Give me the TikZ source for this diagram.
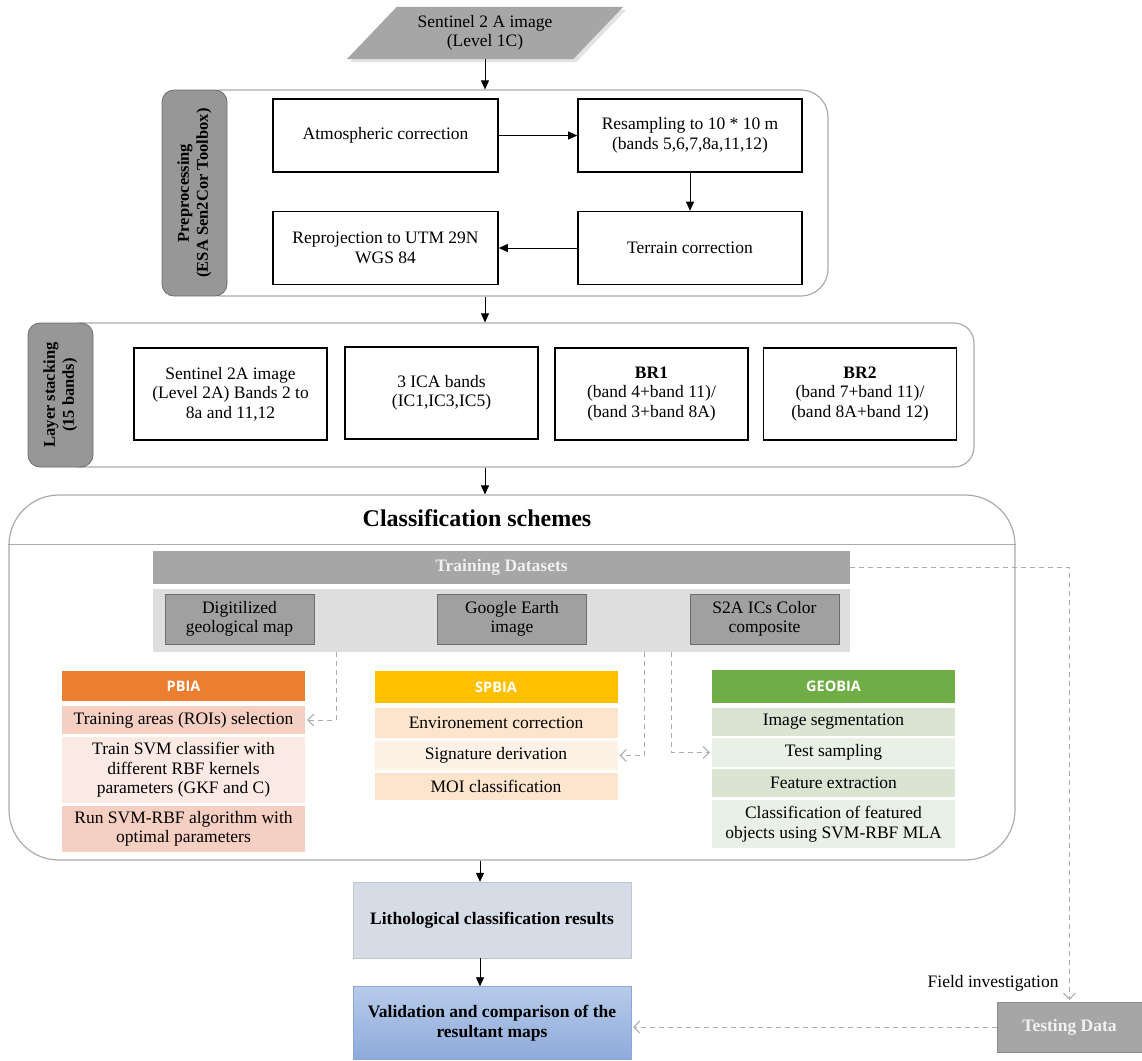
\documentclass[tikz,border=0pt]{standalone}
\usepackage{fontspec}
\setmainfont{Liberation Serif}
\setsansfont{Open Sans}
\usetikzlibrary{arrows.meta,backgrounds}

\definecolor{boxgray}{HTML}{A6A6A6}
\definecolor{tabgray}{HTML}{979797}
\definecolor{tabedge}{HTML}{6E6E6E}
\definecolor{linegray}{HTML}{ABABAB}
\definecolor{bandgray}{HTML}{DEDEDE}
\definecolor{datagray}{HTML}{A0A0A0}
\definecolor{pbiahead}{HTML}{ED7D31}
\definecolor{pbiadark}{HTML}{F6CFC3}
\definecolor{pbialight}{HTML}{FBE9E4}
\definecolor{spbiahead}{HTML}{FFC000}
\definecolor{spbiadark}{HTML}{FDE5CD}
\definecolor{spbialight}{HTML}{FEF2E6}
\definecolor{geohead}{HTML}{70AD47}
\definecolor{geodark}{HTML}{D9E4D2}
\definecolor{geolight}{HTML}{E9F0E5}
\definecolor{lithofill}{HTML}{D6DCE5}
\definecolor{lithoedge}{HTML}{BFC6D1}
\definecolor{validtop}{HTML}{B7CBEA}
\definecolor{validbot}{HTML}{8EAADB}
\definecolor{validedge}{HTML}{8AA5D6}

\newcommand{\txt}{\fontsize{17.5}{19.5}\selectfont}

\begin{document}
\begin{tikzpicture}
    [x=1pt,y=-1pt,>={Triangle[length=9pt,width=8pt]},
     pre/.style={<-,black,line width=0.8pt},
     post/.style={->,black,line width=0.8pt},
     dashlink/.style={draw=linegray,dashed,dash pattern=on 5pt off 4pt,line width=1pt,
       -{Straight Barb[length=6pt,width=12pt]},shorten >=2pt},
     cont/.style={draw=linegray,line width=1.2pt,rounded corners=#1},
     sidetab/.style={fill=tabgray,draw=tabedge,line width=0.8pt,rounded corners=12pt,
       rotate=90,align=center,font=\fontsize{16.5}{19}\selectfont\bfseries},
     procbox/.style={draw=black,line width=1.6pt,align=center,font=\txt,inner sep=2pt},
     databox/.style={fill=datagray,draw=tabedge,line width=1pt,align=center,font=\txt,
       minimum width=149pt,minimum height=50pt},
     headbox/.style={fill=#1,text=white,minimum width=243pt,
       font=\sffamily\bfseries\fontsize{14.5}{16}\selectfont},
     rowbox/.style={fill=#1,minimum width=243pt,align=center,font=\txt,inner sep=1pt}]
    \useasboundingbox (0,0) rectangle (1142,1060);

    \node [align=center,font=\txt,minimum width=226pt,minimum height=52pt] (img) at (485,33)
      {Sentinel 2 A image\\(Level 1C)};
    \begin{scope}[on background layer]
      \fill [gray!22] ([shift={(28pt,-3pt)}]img.north west) -- ([shift={(28pt,-3pt)}]img.north east)
        -- ([shift={(-22pt,-3pt)}]img.south east) -- ([shift={(-22pt,-3pt)}]img.south west) -- cycle;
      \fill [boxgray] ([xshift=25pt]img.north west) -- ([xshift=25pt]img.north east)
        -- ([xshift=-25pt]img.south east) -- ([xshift=-25pt]img.south west) -- cycle;
    \end{scope}

    \node [cont=27pt,minimum width=634pt,minimum height=206pt] (prebox) at (511,193) {};
    \node [sidetab,minimum width=206pt,minimum height=65pt] (pretab) at (194.5,193)
      {Preprocessing\\(ESA Sen2Cor Toolbox)};
    \node [procbox,minimum width=225pt,minimum height=73pt] (atm) at (385.5,135.5)
      {Atmospheric correction};
    \node [procbox,minimum width=224pt,minimum height=73pt] (res) at (690,135.5)
      {Resampling to 10 * 10 m\\(bands 5,6,7,8a,11,12)}
      edge [pre] (atm);
    \node [procbox,minimum width=224pt,minimum height=73pt] (ter) at (690,248)
      {Terrain correction}
      edge [pre] (res);
    \node [procbox,minimum width=225pt,minimum height=73pt] (rep) at (385.5,248)
      {Reprojection to UTM 29N\\WGS 84}
      edge [pre] (ter);
    \draw [post] (img.south) -- (img.south |- prebox.north);

    \node [cont=20pt,minimum width=914pt,minimum height=144pt] (laybox) at (517,395) {};
    \node [sidetab,minimum width=144pt,minimum height=65pt] (laytab) at (60.5,395)
      {Layer stacking\\(15 bands)};
    \node [procbox,minimum width=193pt,minimum height=92pt] (s2l2) at (230.5,394)
      {Sentinel 2A image\\(Level 2A) Bands 2 to\\8a and 11,12};
    \node [procbox,minimum width=193pt,minimum height=92pt] (ica) at (441.5,393)
      {3 ICA bands\\(IC1,IC3,IC5)};
    \node [procbox,minimum width=193pt,minimum height=92pt] (br1) at (651.5,394)
      {\textbf{BR1}\\(band 4+band 11)/\\(band 3+band 8A)};
    \node [procbox,minimum width=193pt,minimum height=92pt] (br2) at (860,394)
      {\textbf{BR2}\\(band 7+band 11)/\\(band 8A+band 12)};
    \draw [post] (prebox.south -| img.south) -- (laybox.north -| img.south);

    \node [cont=50pt,minimum width=1006pt,minimum height=365pt] (clsbox) at (512,677.5) {};
    \coordinate (sep) at (0,544);
    \draw [linegray,line width=1pt] (clsbox.west |- sep) -- (clsbox.east |- sep);
    \node [font=\fontsize{24}{28}\selectfont\bfseries] (clstitle) at (477,518)
      {Classification schemes};
    \draw [post] (laybox.south -| img.south) -- (clsbox.north -| img.south);

    \node [fill=boxgray,minimum width=697pt,minimum height=33pt,font=\txt\bfseries,
      text=white!94!black] (train) at (501.5,567.5) {Training Datasets};
    \node [fill=bandgray,minimum width=697pt,minimum height=63pt] (band) at (501.5,620.5) {};
    \node [databox] (dig) at (239.5,619) {Digitilized\\geological map};
    \node [databox] (goo) at (512,619) {Google Earth\\image};
    \node [databox] (s2a) at (764.5,619) {S2A ICs Color\\composite};

    \node [headbox=pbiahead,minimum height=30pt] (pbia) at (183.5,686) {PBIA};
    \node [rowbox=pbiadark,minimum height=28pt] (p1) at (183.5,720)
      {Training areas (ROIs) selection};
    \node [rowbox=pbialight,minimum height=66pt] (p2) at (183.5,770)
      {Train SVM classifier with\\different RBF kernels\\parameters (GKF and C)};
    \node [rowbox=pbiadark,minimum height=46pt] (p3) at (183.5,829)
      {Run SVM-RBF algorithm with\\optimal parameters};

    \node [headbox=spbiahead,minimum height=32pt] (spbia) at (496,687) {SPBIA};
    \node [rowbox=spbiadark,minimum height=30pt] (s1) at (496,723) {Environement correction};
    \node [rowbox=spbialight,minimum height=29pt] (s2) at (496,755.5) {Signature derivation};
    \node [rowbox=spbiadark,minimum height=27pt] (s3) at (496,786.5) {MOI classification};

    \node [headbox=geohead,minimum height=33pt] (geobia) at (833.5,686.5) {GEOBIA};
    \node [rowbox=geodark,minimum height=28pt] (g1) at (833.5,722) {Image segmentation};
    \node [rowbox=geolight,minimum height=29pt] (g2) at (833.5,752.5) {Test sampling};
    \node [rowbox=geodark,minimum height=28pt] (g3) at (833.5,783) {Feature extraction};
    \node [rowbox=geolight,minimum height=48pt] (g4) at (833.5,824)
      {Classification of featured\\objects using SVM-RBF MLA};

    \coordinate (d1) at (336,652);
    \coordinate (d2) at (644,652);
    \coordinate (d3) at (671,652);
    \draw [dashlink] (d1) |- (p1.east);
    \draw [dashlink] (d2) |- (s2.east);
    \draw [dashlink] (d3) |- (g2.west);

    \coordinate (spine) at (480,0);
    \node [draw=lithoedge,fill=lithofill,minimum width=278pt,minimum height=76pt,
      font=\txt\bfseries] (litho) at (492,920) {Lithological classification results};
    \node [draw=validedge,top color=validtop,bottom color=validbot,minimum width=278pt,
      minimum height=73pt,align=center,font=\txt\bfseries] (valid) at (492,1023)
      {Validation and comparison of the\\resultant maps};
    \node [fill=boxgray,draw=tabedge!80,minimum width=145pt,minimum height=50pt,
      font=\txt\bfseries,text=white!95!black] (test) at (1069.5,1027) {Testing Data};
    \node [font=\txt,anchor=east] (field) at (1062,983) {Field investigation};
    \draw [post] (clsbox.south -| spine) -- (litho.north -| spine);
    \draw [post] (litho.south -| spine) -- (valid.north -| spine);
    \draw [dashlink] (train.east) -| (test.north);
    \draw [dashlink] (test.west) -- (test.west -| valid.east);
  \end{tikzpicture}
\end{document}
